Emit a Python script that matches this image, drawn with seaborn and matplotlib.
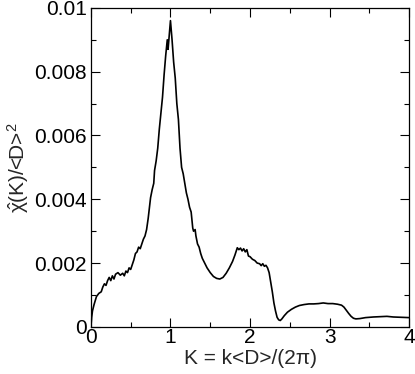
import matplotlib
matplotlib.use("Agg")
import matplotlib.pyplot as plt
import seaborn as sns
import numpy as np
from matplotlib.ticker import MultipleLocator

# structure factor-like curve
K = [0.0, 0.01, 0.02, 0.04, 0.07, 0.10, 0.13, 0.15, 0.17, 0.19, 0.21, 0.23, 0.25, 0.27,
     0.29, 0.31, 0.34, 0.37, 0.40, 0.42, 0.44, 0.46, 0.48, 0.50, 0.52, 0.54, 0.56, 0.58,
     0.60, 0.62, 0.64, 0.66, 0.68, 0.70, 0.72, 0.74, 0.75, 0.77, 0.79, 0.80, 0.82, 0.84,
     0.86, 0.88, 0.90, 0.92, 0.94, 0.96, 0.97, 0.99, 1.00, 1.02, 1.04, 1.06, 1.08, 1.10,
     1.12, 1.14, 1.16, 1.18, 1.20, 1.22, 1.24, 1.26, 1.28, 1.29, 1.31, 1.32, 1.34, 1.36,
     1.38, 1.40, 1.43, 1.46, 1.50, 1.54, 1.58, 1.62, 1.66, 1.70, 1.74, 1.78, 1.81, 1.84,
     1.86, 1.88, 1.90, 1.92, 1.94, 1.96, 1.98, 2.00, 2.03, 2.06, 2.09, 2.12, 2.14, 2.16,
     2.18, 2.20, 2.22, 2.24, 2.26, 2.28, 2.30, 2.32, 2.34, 2.36, 2.38, 2.40, 2.43, 2.47,
     2.52, 2.57, 2.62, 2.68, 2.74, 2.80, 2.86, 2.92, 2.98, 3.04, 3.10, 3.15, 3.18, 3.21,
     3.24, 3.27, 3.30, 3.33, 3.38, 3.45, 3.55, 3.65, 3.72, 3.80, 3.90, 4.00]
chi_1e3 = [0.0, 0.3, 0.5, 0.7, 0.95, 1.05, 1.1, 1.25, 1.35, 1.3, 1.45, 1.55, 1.45, 1.6,
           1.5, 1.65, 1.7, 1.62, 1.68, 1.6, 1.75, 1.7, 1.85, 1.8, 1.95, 2.1, 2.3, 2.35,
           2.5, 2.45, 2.6, 2.75, 2.85, 3.05, 3.4, 3.85, 4.05, 4.3, 4.5, 4.9, 5.2, 5.6,
           6.2, 6.7, 7.2, 7.9, 8.5, 9.0, 8.7, 9.3, 9.6, 9.0, 8.3, 7.8, 7.0, 6.5,
           5.6, 5.0, 4.8, 4.5, 4.2, 4.0, 3.75, 3.6, 3.1, 3.0, 3.05, 2.85, 2.6, 2.5,
           2.3, 2.15, 2.0, 1.85, 1.7, 1.58, 1.52, 1.5, 1.55, 1.68, 1.85, 2.05, 2.25, 2.48,
           2.42, 2.47, 2.38, 2.45, 2.35, 2.42, 2.22, 2.2, 2.12, 2.08, 2.0, 1.98, 1.92, 1.98,
           1.9, 1.93, 1.85, 1.7, 1.4, 1.1, 0.75, 0.5, 0.3, 0.22, 0.2, 0.25, 0.35, 0.46,
           0.55, 0.62, 0.67, 0.7, 0.72, 0.72, 0.73, 0.75, 0.73, 0.73, 0.71, 0.68, 0.62, 0.52,
           0.42, 0.33, 0.27, 0.25, 0.26, 0.29, 0.31, 0.32, 0.33, 0.31, 0.30, 0.29]
chi = np.array(chi_1e3) * 1e-3

sns.set_style("ticks")
plt.rcParams["font.family"] = ["Liberation Sans", "DejaVu Sans"]
plt.rcParams["mathtext.fontset"] = "custom"
plt.rcParams["mathtext.rm"] = "Liberation Sans"
plt.rcParams["mathtext.it"] = "Liberation Sans"

fig = plt.figure(figsize=(4.15, 3.74), dpi=100)
ax = fig.add_axes([0.219, 0.126, 0.767, 0.853])
sns.lineplot(x=K, y=chi, ax=ax, color="black", linewidth=1.2, sort=False)

ax.set_xlim(0, 4)
ax.set_ylim(0, 0.01)
ax.xaxis.set_major_locator(MultipleLocator(1))
ax.xaxis.set_minor_locator(MultipleLocator(0.5))
ax.yaxis.set_minor_locator(MultipleLocator(0.001))
ax.set_yticks([0, 0.002, 0.004, 0.006, 0.008, 0.01])
ax.set_yticklabels(["0", "0.002", "0.004", "0.006", "0.008", "0.01"])
ax.tick_params(which="both", direction="in", top=True, right=True, labelsize=15,
               width=0.8, color="black", labelcolor="black")
ax.tick_params(which="major", length=6.5)
ax.tick_params(axis="y", which="major", pad=3)
ax.tick_params(axis="x", which="major", pad=1)
ax.tick_params(which="minor", length=3.5)
for s in ax.spines.values():
    s.set_linewidth(0.9)
    s.set_color("black")

ax.set_xlabel("K = k<D>/(2π)", fontsize=15, labelpad=1)
ax.set_ylabel(r"$\hat{\chi}$(K)/<D>$^2$", fontsize=15, labelpad=2)

fig.savefig("out.png", dpi=100)
